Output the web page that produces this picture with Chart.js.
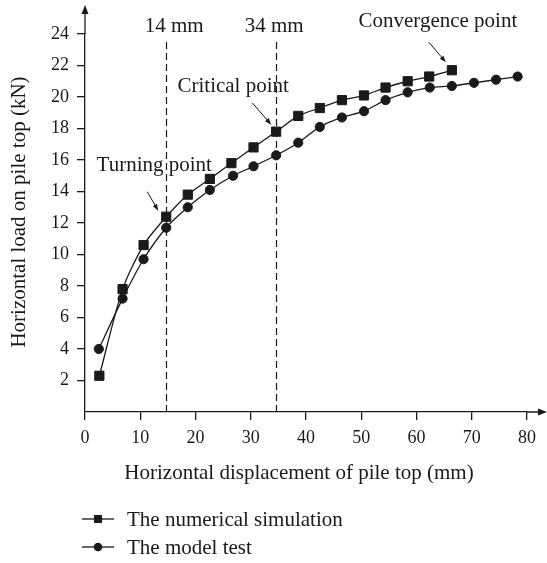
<!DOCTYPE html>
<html>
<head>
<meta charset="utf-8">
<script src="https://cdn.jsdelivr.net/npm/chart.js@4"></script>
<style>
  body { margin: 0; background: #fff; }
</style>
</head>
<body>
<canvas id="pileChart" width="547" height="563"></canvas>
<script>
// data
const simDisp = [2.6, 6.8, 10.6, 14.7, 18.6, 22.6, 26.5, 30.5, 34.6, 38.6, 42.5, 46.5, 50.5, 54.4, 58.4, 62.3, 66.4];
const simLoad = [2.3, 7.8, 10.6, 12.4, 13.8, 14.8, 15.8, 16.8, 17.8, 18.8, 19.3, 19.8, 20.1, 20.6, 21.0, 21.3, 21.7];
const testDisp = [2.5, 6.8, 10.6, 14.7, 18.6, 22.6, 26.8, 30.5, 34.6, 38.6, 42.5, 46.5, 50.5, 54.4, 58.4, 62.4, 66.4, 70.4, 74.4, 78.3];
const testLoad = [4.0, 7.2, 9.7, 11.7, 13.0, 14.1, 15.0, 15.6, 16.3, 17.1, 18.1, 18.7, 19.1, 19.8, 20.3, 20.6, 20.7, 20.9, 21.1, 21.3];
const xTicks = [0, 10, 20, 30, 40, 50, 60, 70, 80];
const yTicks = [2, 4, 6, 8, 10, 12, 14, 16, 18, 20, 22, 24];
const guideLines = [14.7, 34.6];
const guideLabels = ['14 mm', '34 mm'];
const notes = ['Turning point', 'Critical point', 'Convergence point'];
const noteIndex = [3, 8, 16]; // which simulation point each note points at
const seriesNames = ['The numerical simulation', 'The model test'];
const xTitle = 'Horizontal displacement of pile top (mm)';
const yTitle = 'Horizontal load on pile top (kN)';

const FONT = 'Liberation Serif, Times New Roman, serif';
const INK = '#1a1a1a';
const TEXT_SIZE = 21;

const toXY = (xs, ys) => xs.map((x, i) => ({ x: x, y: ys[i] }));

function arrow(ctx, x1, y1, x2, y2) {
  const a = Math.atan2(y2 - y1, x2 - x1);
  const head = 7;
  ctx.beginPath();
  ctx.moveTo(x1, y1);
  ctx.lineTo(x2 - Math.cos(a) * 4, y2 - Math.sin(a) * 4);
  ctx.stroke();
  ctx.beginPath();
  ctx.moveTo(x2, y2);
  ctx.lineTo(x2 - head * Math.cos(a - 0.35), y2 - head * Math.sin(a - 0.35));
  ctx.lineTo(x2 - head * Math.cos(a + 0.35), y2 - head * Math.sin(a + 0.35));
  ctx.closePath();
  ctx.fill();
}

const extras = {
  id: 'extras',
  beforeDatasetsDraw(chart) {
    const { ctx, chartArea, scales } = chart;
    ctx.save();
    ctx.strokeStyle = INK;
    ctx.lineWidth = 1.2;
    ctx.setLineDash([7, 4]);
    guideLines.forEach(v => {
      const px = Math.round(scales.x.getPixelForValue(v)) + 0.5;
      ctx.beginPath();
      ctx.moveTo(px, 42);
      ctx.lineTo(px, chartArea.bottom);
      ctx.stroke();
    });
    ctx.setLineDash([]);
    ctx.fillStyle = INK;
    ctx.font = TEXT_SIZE + 'px ' + FONT;
    ctx.textAlign = 'center';
    ctx.textBaseline = 'middle';
    guideLabels.forEach((t, i) => {
      ctx.fillText(t, scales.x.getPixelForValue(guideLines[i]) + (i === 0 ? 8 : -2), 26);
    });

    // axis titles
    ctx.fillText(xTitle, 299, 473);
    ctx.save();
    ctx.translate(19, 212);
    ctx.rotate(-Math.PI / 2);
    ctx.fillText(yTitle, 0, 0);
    ctx.restore();
    ctx.restore();
  },
  afterDraw(chart) {
    const { ctx, chartArea, scales } = chart;
    ctx.save();
    ctx.strokeStyle = INK;
    ctx.fillStyle = INK;
    ctx.lineWidth = 1.3;

    // axis arrows
    const ox = chartArea.left, oy = chartArea.bottom;
    ctx.beginPath();
    ctx.moveTo(ox, chartArea.top);
    ctx.lineTo(ox, 10);
    ctx.moveTo(chartArea.right, oy);
    ctx.lineTo(541, oy);
    ctx.stroke();
    ctx.beginPath();
    ctx.moveTo(ox, 5); ctx.lineTo(ox - 3.5, 14); ctx.lineTo(ox + 3.5, 14); ctx.closePath();
    ctx.moveTo(547, oy); ctx.lineTo(538, oy - 3.5); ctx.lineTo(538, oy + 3.5); ctx.closePath();
    ctx.fill();

    // annotations
    const offs = [
      { tx: -12, ty: -51, ax: -19, ay: -25, bx: -8, by: -6 },
      { tx: -43, ty: -45, ax: -24, ay: -29, bx: -5, by: -7 },
      { tx: -14, ty: -49, ax: -23, ay: -28, bx: -6, by: -8 }
    ];
    ctx.font = TEXT_SIZE + 'px ' + FONT;
    ctx.textAlign = 'center';
    ctx.textBaseline = 'middle';
    ctx.lineWidth = 1;
    notes.forEach((t, i) => {
      const k = noteIndex[i];
      const px = scales.x.getPixelForValue(simDisp[k]);
      const py = scales.y.getPixelForValue(simLoad[k]);
      const o = offs[i];
      ctx.fillText(t, px + o.tx, py + o.ty);
      arrow(ctx, px + o.ax, py + o.ay, px + o.bx, py + o.by);
    });

    // legend
    ctx.textAlign = 'left';
    ctx.lineWidth = 1.3;
    seriesNames.forEach((name, i) => {
      const y = 519 + i * 28;
      ctx.beginPath();
      ctx.moveTo(82, y);
      ctx.lineTo(114, y);
      ctx.stroke();
      if (i === 0) {
        ctx.fillRect(94, y - 4, 8, 8);
      } else {
        ctx.beginPath();
        ctx.arc(98, y, 4.3, 0, Math.PI * 2);
        ctx.fill();
      }
      ctx.fillText(name, 127, y + 1);
    });
    ctx.restore();
  }
};

const tickFont = { family: FONT, size: 18 };

new Chart(document.getElementById('pileChart').getContext('2d'), {
  type: 'line',
  data: {
    datasets: [
      {
        label: seriesNames[0],
        data: toXY(simDisp, simLoad),
        borderColor: INK,
        backgroundColor: INK,
        borderWidth: 1.3,
        pointStyle: 'rect',
        pointRadius: 6.5,
        pointBorderWidth: 1,
        tension: 0.25
      },
      {
        label: seriesNames[1],
        data: toXY(testDisp, testLoad),
        borderColor: INK,
        backgroundColor: INK,
        borderWidth: 1.3,
        pointStyle: 'circle',
        pointRadius: 4.6,
        pointBorderWidth: 1,
        tension: 0.25
      }
    ]
  },
  options: {
    responsive: false,
    animation: false,
    layout: { padding: { top: 34, right: 20, left: 0, bottom: 76 } },
    plugins: { legend: { display: false }, tooltip: { enabled: false } },
    scales: {
      x: {
        type: 'linear',
        min: 0,
        max: 80,
        afterFit: s => { s.height = 75; },
        afterBuildTicks: s => { s.ticks = xTicks.map(v => ({ value: v })); },
        grid: { drawOnChartArea: false, tickLength: 8, color: INK, lineWidth: 1.3 },
        border: { color: INK, width: 1.3 },
        ticks: { font: tickFont, color: INK, padding: 7 }
      },
      y: {
        type: 'linear',
        min: 0,
        max: 24,
        afterFit: s => { s.width = 85; },
        afterBuildTicks: s => { s.ticks = yTicks.map(v => ({ value: v })); },
        grid: { drawOnChartArea: false, tickLength: 8, color: INK, lineWidth: 1.3 },
        border: { color: INK, width: 1.3 },
        ticks: { font: tickFont, color: INK, padding: 8 }
      }
    }
  },
  plugins: [extras]
});
</script>
</body>
</html>
